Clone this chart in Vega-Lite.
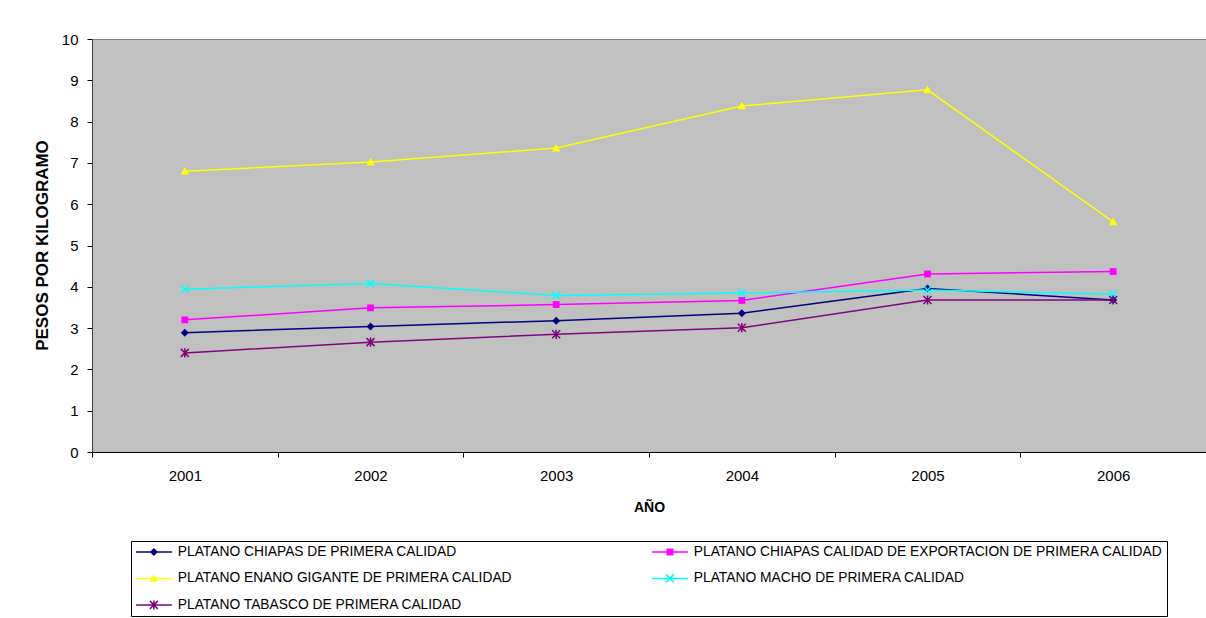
{
  "$schema": "https://vega.github.io/schema/vega-lite/v6.json",
  "width": 1114,
  "height": 413,
  "autosize": {"type": "none"},
  "padding": {"left": 92, "top": 39, "right": 0, "bottom": 166},
  "background": "white",
  "data": {
    "values": [
      {"year": "2001", "series": "PLATANO CHIAPAS DE PRIMERA CALIDAD", "price": 2.89},
      {"year": "2002", "series": "PLATANO CHIAPAS DE PRIMERA CALIDAD", "price": 3.04},
      {"year": "2003", "series": "PLATANO CHIAPAS DE PRIMERA CALIDAD", "price": 3.18},
      {"year": "2004", "series": "PLATANO CHIAPAS DE PRIMERA CALIDAD", "price": 3.36},
      {"year": "2005", "series": "PLATANO CHIAPAS DE PRIMERA CALIDAD", "price": 3.96},
      {"year": "2006", "series": "PLATANO CHIAPAS DE PRIMERA CALIDAD", "price": 3.68},
      {"year": "2001", "series": "PLATANO CHIAPAS CALIDAD DE EXPORTACION DE PRIMERA CALIDAD", "price": 3.2},
      {"year": "2002", "series": "PLATANO CHIAPAS CALIDAD DE EXPORTACION DE PRIMERA CALIDAD", "price": 3.49},
      {"year": "2003", "series": "PLATANO CHIAPAS CALIDAD DE EXPORTACION DE PRIMERA CALIDAD", "price": 3.57},
      {"year": "2004", "series": "PLATANO CHIAPAS CALIDAD DE EXPORTACION DE PRIMERA CALIDAD", "price": 3.67},
      {"year": "2005", "series": "PLATANO CHIAPAS CALIDAD DE EXPORTACION DE PRIMERA CALIDAD", "price": 4.31},
      {"year": "2006", "series": "PLATANO CHIAPAS CALIDAD DE EXPORTACION DE PRIMERA CALIDAD", "price": 4.37},
      {"year": "2001", "series": "PLATANO ENANO GIGANTE DE PRIMERA CALIDAD", "price": 6.8},
      {"year": "2002", "series": "PLATANO ENANO GIGANTE DE PRIMERA CALIDAD", "price": 7.02},
      {"year": "2003", "series": "PLATANO ENANO GIGANTE DE PRIMERA CALIDAD", "price": 7.36},
      {"year": "2004", "series": "PLATANO ENANO GIGANTE DE PRIMERA CALIDAD", "price": 8.38},
      {"year": "2005", "series": "PLATANO ENANO GIGANTE DE PRIMERA CALIDAD", "price": 8.77},
      {"year": "2006", "series": "PLATANO ENANO GIGANTE DE PRIMERA CALIDAD", "price": 5.57},
      {"year": "2001", "series": "PLATANO MACHO DE PRIMERA CALIDAD", "price": 3.94},
      {"year": "2002", "series": "PLATANO MACHO DE PRIMERA CALIDAD", "price": 4.08},
      {"year": "2003", "series": "PLATANO MACHO DE PRIMERA CALIDAD", "price": 3.79},
      {"year": "2004", "series": "PLATANO MACHO DE PRIMERA CALIDAD", "price": 3.85},
      {"year": "2005", "series": "PLATANO MACHO DE PRIMERA CALIDAD", "price": 3.92},
      {"year": "2006", "series": "PLATANO MACHO DE PRIMERA CALIDAD", "price": 3.82},
      {"year": "2001", "series": "PLATANO TABASCO DE PRIMERA CALIDAD", "price": 2.4},
      {"year": "2002", "series": "PLATANO TABASCO DE PRIMERA CALIDAD", "price": 2.66},
      {"year": "2003", "series": "PLATANO TABASCO DE PRIMERA CALIDAD", "price": 2.85},
      {"year": "2004", "series": "PLATANO TABASCO DE PRIMERA CALIDAD", "price": 3.01},
      {"year": "2005", "series": "PLATANO TABASCO DE PRIMERA CALIDAD", "price": 3.68},
      {"year": "2006", "series": "PLATANO TABASCO DE PRIMERA CALIDAD", "price": 3.68}
    ]
  },
  "encoding": {
    "x": {
      "field": "year",
      "type": "ordinal",
      "scale": {"type": "band", "paddingInner": 0, "paddingOuter": 0},
      "axis": {
        "title": "AÑO",
        "labelAngle": 0,
        "tickBand": "extent",
        "tickSize": 5,
        "labelPadding": 11,
        "labelFontSize": 15,
        "titleFontSize": 14,
        "titleFontWeight": "bold",
        "titleY": 55,
        "titleBaseline": "middle",
        "domainColor": "#000000",
        "tickColor": "#000000",
        "grid": false
      }
    },
    "y": {
      "field": "price",
      "type": "quantitative",
      "scale": {"domain": [0, 10], "nice": false, "zero": true},
      "axis": {
        "title": "PESOS POR KILOGRAMO",
        "values": [0, 1, 2, 3, 4, 5, 6, 7, 8, 9, 10],
        "tickSize": 5,
        "labelPadding": 9,
        "labelFontSize": 15,
        "titleFontSize": 17,
        "titleFontWeight": "bold",
        "titleX": -50,
        "titleY": 206,
        "titleAlign": "center",
        "titleBaseline": "middle",
        "domainColor": "#404040",
        "tickColor": "#000000",
        "grid": false
      }
    }
  },
  "layer": [
    {
      "mark": {"type": "line", "strokeWidth": 1.5},
      "encoding": {
        "color": {
          "field": "series",
          "type": "nominal",
          "legend": null,
          "scale": {
            "domain": [
              "PLATANO CHIAPAS DE PRIMERA CALIDAD",
              "PLATANO CHIAPAS CALIDAD DE EXPORTACION DE PRIMERA CALIDAD",
              "PLATANO ENANO GIGANTE DE PRIMERA CALIDAD",
              "PLATANO MACHO DE PRIMERA CALIDAD",
              "PLATANO TABASCO DE PRIMERA CALIDAD"
            ],
            "range": ["#000080", "#FF00FF", "#FFFF00", "#00FFFF", "#800080"]
          }
        }
      }
    },
    {
      "mark": {"type": "point", "filled": true, "opacity": 1, "size": 64, "strokeWidth": 0},
      "encoding": {
        "color": {"field": "series", "type": "nominal", "legend": null},
        "shape": {
          "field": "series",
          "type": "nominal",
          "legend": null,
          "scale": {
            "domain": [
              "PLATANO CHIAPAS DE PRIMERA CALIDAD",
              "PLATANO CHIAPAS CALIDAD DE EXPORTACION DE PRIMERA CALIDAD",
              "PLATANO ENANO GIGANTE DE PRIMERA CALIDAD",
              "PLATANO MACHO DE PRIMERA CALIDAD",
              "PLATANO TABASCO DE PRIMERA CALIDAD"
            ],
            "range": [
              "M0,-1L1,0L0,1L-1,0Z",
              "M-0.85,-0.85H0.85V0.85H-0.85Z",
              "M0,-1.05L1.05,0.85L-1.05,0.85Z",
              "M-1.13,-0.87L-0.87,-1.13L1.13,0.87L0.87,1.13Z M0.87,-1.13L1.13,-0.87L-0.87,1.13L-1.13,0.87Z",
              "M-1.13,-0.87L-0.87,-1.13L1.13,0.87L0.87,1.13Z M0.87,-1.13L1.13,-0.87L-0.87,1.13L-1.13,0.87Z M-0.19,-1.15H0.19V1.15H-0.19Z"
            ]
          }
        }
      }
    },
    {
      "transform": [{"filter": {"field": "year", "equal": "none"}}],
      "mark": {"type": "point", "filled": true, "opacity": 1, "size": 144, "strokeWidth": 0},
      "encoding": {
        "fill": {
          "field": "series",
          "type": "nominal",
          "scale": {
            "domain": [
              "PLATANO CHIAPAS DE PRIMERA CALIDAD",
              "PLATANO CHIAPAS CALIDAD DE EXPORTACION DE PRIMERA CALIDAD",
              "PLATANO ENANO GIGANTE DE PRIMERA CALIDAD",
              "PLATANO MACHO DE PRIMERA CALIDAD",
              "PLATANO TABASCO DE PRIMERA CALIDAD"
            ],
            "range": ["#000080", "#FF00FF", "#FFFF00", "#00FFFF", "#800080"]
          },
          "legend": {
            "title": null, "orient": "none", "legendX": 39, "legendY": 502,
            "direction": "horizontal", "columns": 2, "padding": 4,
            "strokeColor": "#000000", "fillColor": "#ffffff",
            "symbolSize": 144, "symbolOffset": 12, "symbolStrokeWidth": 0, "symbolOpacity": 1,
            "labelOffset": 17, "labelFontSize": 13.8, "labelLimit": 700,
            "rowPadding": 11.5, "columnPadding": 138, "labelColor": "#000000"
          }
        },
        "shape": {
          "field": "series",
          "type": "nominal",
          "scale": {
            "domain": [
              "PLATANO CHIAPAS DE PRIMERA CALIDAD",
              "PLATANO CHIAPAS CALIDAD DE EXPORTACION DE PRIMERA CALIDAD",
              "PLATANO ENANO GIGANTE DE PRIMERA CALIDAD",
              "PLATANO MACHO DE PRIMERA CALIDAD",
              "PLATANO TABASCO DE PRIMERA CALIDAD"
            ],
            "range": [
              "M-3,-0.125H3V0.125H-3Z M0,-0.67L0.67,0L0,0.67L-0.67,0Z",
              "M-3,-0.125H3V0.125H-3Z M-0.58,-0.58H0.58V0.58H-0.58Z",
              "M-3,-0.125H3V0.125H-3Z M0,-0.7L0.7,0.57L-0.7,0.57Z",
              "M-3,-0.125H3V0.125H-3Z M-0.76,-0.58L-0.58,-0.76L0.76,0.58L0.58,0.76Z M0.58,-0.76L0.76,-0.58L-0.58,0.76L-0.76,0.58Z",
              "M-3,-0.125H3V0.125H-3Z M-0.76,-0.58L-0.58,-0.76L0.76,0.58L0.58,0.76Z M0.58,-0.76L0.76,-0.58L-0.58,0.76L-0.76,0.58Z M-0.125,-0.75H0.125V0.75H-0.125Z"
            ]
          },
          "legend": {
            "title": null, "orient": "none", "legendX": 39, "legendY": 502,
            "direction": "horizontal", "columns": 2, "padding": 4,
            "strokeColor": "#000000", "fillColor": "#ffffff",
            "symbolSize": 144, "symbolOffset": 12, "symbolStrokeWidth": 0, "symbolOpacity": 1,
            "labelOffset": 17, "labelFontSize": 13.8, "labelLimit": 700,
            "rowPadding": 11.5, "columnPadding": 138, "labelColor": "#000000"
          }
        }
      }
    }
  ],
  "resolve": {"scale": {"shape": "independent", "fill": "independent"}},
  "config": {
    "font": "Liberation Sans",
    "view": {"fill": "#C0C0C0", "stroke": "#808080", "strokeWidth": 1},
    "axis": {"labelColor": "#000000", "titleColor": "#000000", "domainWidth": 1}
  }
}
